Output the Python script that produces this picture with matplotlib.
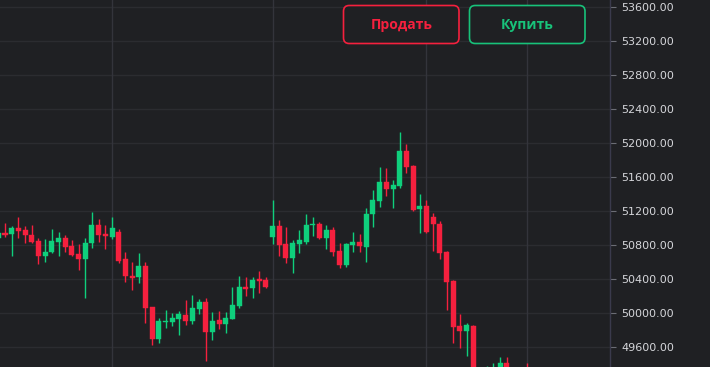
import matplotlib
matplotlib.use("Agg")
import matplotlib.pyplot as plt
from matplotlib.patches import FancyBboxPatch
import numpy as np

# ---- data (OHLC), index -1 is the partially visible first candle ----
opens = [50882, 50937, 50929, 50996, 50973, 50921, 50847, 50670, 50717, 50835,
         50882, 50784, 50697, 50635, 50820, 51035, 50926, 50897, 50949, 50631,
         50435, 50420, 50553, 50067, 49694, 49894, 49897, 49932, 49980, 49909,
         50050, 50133, 49780, 49917, 49870, 49932, 50082, 50302, 50290, 50396,
         50388, 50897, 51027, 50811, 50643, 50811, 50831, 51031, 51043, 50886,
         50976, 50733, 50564, 50800, 50838, 50780, 51161, 51317, 51544, 51458,
         51494, 51905, 51729, 51220, 51258, 51126, 51050, 50717, 50376, 49847,
         49791, 49847, 49280, 49300, 49310, 49330, 49408, 49350, 49300, 49340]
closes = [50941, 50921, 50996, 50964, 50914, 50835, 50670, 50721, 50847, 50882,
          50773, 50682, 50635, 50820, 51035, 50914, 50906, 50996, 50615, 50435,
          50415, 50553, 50062, 49694, 49905, 49905, 49941, 49984, 49909, 50062,
          50133, 49780, 49905, 49870, 49944, 50094, 50302, 50278, 50388, 50380,
          50302, 51027, 50800, 50643, 50820, 50858, 51035, 51043, 50886, 50976,
          50721, 50564, 50808, 50838, 50788, 51161, 51329, 51544, 51458, 51505,
          51905, 51714, 51211, 51258, 50956, 51043, 50709, 50368, 49831, 49791,
          49858, 49280, 49220, 49330, 49340, 49408, 49350, 49300, 49330, 49300]
highs = [50964, 51062, 51027, 51126, 51023, 51035, 50878, 50867, 50988, 50953,
         50921, 50858, 50811, 50886, 51188, 51102, 51035, 51126, 50984, 50714,
         50603, 50702, 50603, 50067, 49937, 50035, 49996, 50023, 50153, 50211,
         50164, 50173, 50008, 50023, 50008, 50309, 50438, 50427, 50420, 50497,
         50427, 51329, 51094, 51008, 50858, 50976, 51164, 51126, 51067, 51035,
         51015, 50820, 50820, 50956, 50926, 51231, 51447, 51714, 51702, 51564,
         52132, 51988, 51741, 51400, 51326, 51173, 51086, 50729, 50388, 49988,
         49886, 49858, 49300, 49382, 49408, 49479, 49486, 49360, 49355, 49408]
lows = [50858, 50897, 50670, 50878, 50827, 50827, 50573, 50603, 50702, 50670,
        50721, 50670, 50505, 50173, 50761, 50838, 50749, 50867, 50591, 50368,
        50270, 50356, 49878, 49623, 49650, 49827, 49847, 49741, 49858, 49870,
        49984, 49435, 49682, 49808, 49768, 49925, 50055, 50203, 50173, 50238,
        50290, 50808, 50670, 50591, 50467, 50709, 50811, 50906, 50867, 50749,
        50670, 50525, 50537, 50721, 50721, 50596, 51015, 51243, 51380, 51231,
        51474, 51643, 51200, 50937, 50937, 50729, 50631, 50035, 49643, 49594,
        49497, 49230, 49150, 49250, 49270, 49290, 49300, 49260, 49270, 49260]
first_index = -1
price_ticks = [49600, 50000, 50400, 50800, 51200, 51600, 52000, 52400, 52800, 53200, 53600]
vgrid_index = [16, 40, 63, 78]
button_labels = ["Продать", "Купить"]

# ---- style ----
BG = "#1f2023"
GREEN = "#0fcf7c"
RED = "#f5203e"
GRID = "#2b2c30"
VGRID = "#33343b"
TEXT = "#d5d6da"

W, H = 710, 367
fig = plt.figure(figsize=(W / 100, H / 100), dpi=100, facecolor=BG)
ax = fig.add_axes([0, 0, 610 / W, 1], facecolor=BG)

n = len(opens)
x = np.arange(first_index, first_index + n)
o = np.array(opens, float)
c = np.array(closes, float)
hi = np.array(highs, float)
lo = np.array(lows, float)
up = c >= o
cols = np.where(up, GREEN, RED)

# grid
for p in price_ticks:
    ax.axhline(p, color=GRID, lw=1, zorder=0)
for v in vgrid_index:
    ax.axvline(v, color=VGRID, lw=1, zorder=0)

# wicks
ax.vlines(x, lo, hi, colors=cols, lw=1.0, zorder=2)
# bodies
bottom = np.minimum(o, c)
height = np.maximum(np.abs(c - o), 14)
ax.bar(x, height, bottom=bottom, width=0.75, color=cols, edgecolor=cols, lw=0.3, zorder=3)

# scales: 53600 at y=7px, 85 px per 1000
ppu = 0.085
top = 53600 + 7 / ppu
ax.set_ylim(top - H / ppu, top)
ax.set_xlim(-5 / 6.69, 605 / 6.69)

ax.yaxis.tick_right()
ax.set_yticks(price_ticks)
ax.set_yticklabels([f"{p:.2f}" for p in price_ticks])
ax.tick_params(axis="y", colors="#6b6d75", labelcolor=TEXT, length=4, width=0.8,
               pad=4, labelsize=8)
ax.set_xticks([])
for s in ["top", "bottom", "left"]:
    ax.spines[s].set_visible(False)
ax.spines["right"].set_color("#3a3a4c")
ax.spines["right"].set_linewidth(1)

# buttons
btns = [(343.5, 459, RED, button_labels[0]), (469.5, 585, "#18c27a", button_labels[1])]
for x0, x1, col, lab in btns:
    y0, y1 = 5.5, 43.5
    patch = FancyBboxPatch((x0 / W, 1 - y1 / H), (x1 - x0) / W, (y1 - y0) / H,
                           boxstyle="round,pad=0,rounding_size=0.008",
                           transform=fig.transFigure, facecolor=BG, edgecolor=col,
                           lw=1.2, mutation_aspect=W / H, zorder=10)
    fig.add_artist(patch)
    fig.text((x0 + x1) / 2 / W, 1 - 24.5 / H, lab, color=col, ha="center", va="center",
             fontsize=10, fontweight="bold", family=["Open Sans", "DejaVu Sans"], zorder=11)

fig.savefig("out.png", dpi=100, facecolor=BG)
